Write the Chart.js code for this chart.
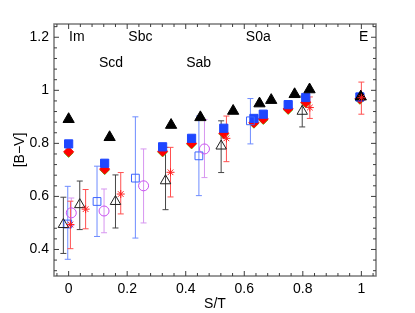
<!DOCTYPE html>
<html>
<head>
<meta charset="utf-8">
<script src="https://cdn.jsdelivr.net/npm/chart.js@4.4.0/dist/chart.umd.min.js"></script>
<style>
body { margin: 0; background: #fff; }
</style>
</head>
<body>
<canvas id="mycanvas" width="415" height="313"></canvas>
<script>
// filled symbols (no error bars)
var triX = [0, 0.14, 0.35, 0.45, 0.562, 0.652, 0.692, 0.772, 0.823, 0.998];
var triY = [0.891, 0.823, 0.869, 0.898, 0.922, 0.95, 0.963, 0.985, 1.003, 0.976];
var sqX = [0, 0.123, 0.321, 0.42, 0.53, 0.633, 0.665, 0.75, 0.81, 0.995];
var sqY = [0.798, 0.725, 0.787, 0.819, 0.857, 0.894, 0.91, 0.946, 0.973, 0.975];
var redY = [0.768, 0.703, 0.77, 0.8, 0.838, 0.878, 0.892, 0.93, 0.955, 0.968];
var greenY = [0.764, 0.699, 0.766, 0.796, 0.834, 0.874, 0.888, 0.926, 0.951, 0.964];

// open symbols with error bars
var bsqX = [-0.003, 0.097, 0.228, 0.445, 0.621];
var bsqY = [0.496, 0.581, 0.669, 0.753, 0.885];
var bsqLo = [0.363, 0.449, 0.443, 0.603, 0.798];
var bsqHi = [0.638, 0.714, 0.9, 0.903, 0.969];

var circX = [0.009, 0.121, 0.256, 0.464];
var circY = [0.538, 0.545, 0.64, 0.779];
var circLo = [0.49, 0.463, 0.5, 0.671];
var circHi = [0.594, 0.628, 0.779, 0.89];

var otriX = [-0.018, 0.038, 0.16, 0.331, 0.521, 0.798];
var otriY = [0.494, 0.569, 0.581, 0.659, 0.79, 0.921];
var otriLo = [0.385, 0.475, 0.481, 0.55, 0.69, 0.862];
var otriHi = [0.597, 0.658, 0.681, 0.785, 0.885, 0.978];

var starX = [0.006, 0.058, 0.178, 0.348, 0.539, 0.824, 1.0];
var starY = [0.494, 0.552, 0.609, 0.691, 0.819, 0.935, 0.972];
var starLo = [0.403, 0.478, 0.534, 0.598, 0.731, 0.894, 0.91];
var starHi = [0.582, 0.626, 0.69, 0.785, 0.903, 0.975, 1.031];

// morphological type labels
var typeNames = ['Im', 'Scd', 'Sbc', 'Sab', 'S0a', 'E'];
var typeX = [0.028, 0.145, 0.245, 0.444, 0.648, 1.008];
var typeY = [1.199, 1.101, 1.199, 1.101, 1.199, 1.199];

var xMajor = [0, 0.2, 0.4, 0.6, 0.8, 1];
var xLabels = ['0', '0.2', '0.4', '0.6', '0.8', '1'];
var yMajor = [0.4, 0.6, 0.8, 1, 1.2];
var yLabels = ['0.4', '0.6', '0.8', '1', '1.2'];

function pts(xs, ys) {
	var out = [];
	for (var i = 0; i < xs.length; i++) out.push({x: xs[i], y: ys[i]});
	return out;
}
function minorTicks(from, to, step) {
	var t = [];
	for (var v = from; v <= to + 1e-9; v += step) t.push(Math.round(v * 1000) / 1000);
	return t;
}
var xTicks = minorTicks(-0.04, 1.04, 0.04);
var yTicks = minorTicks(0.32, 1.24, 0.04);

function labelFor(value, majors, labels) {
	for (var i = 0; i < majors.length; i++) {
		if (Math.abs(value - majors[i]) < 1e-6) return labels[i];
	}
	return '';
}

var errBars = [
	{x: bsqX, lo: bsqLo, hi: bsqHi, color: 'rgb(110,140,255)'},
	{x: circX, lo: circLo, hi: circHi, color: 'rgb(215,150,240)'},
	{x: otriX, lo: otriLo, hi: otriHi, color: 'rgb(70,70,70)'},
	{x: starX, lo: starLo, hi: starHi, color: 'rgb(255,80,80)'}
];

var framePlugin = {
	id: 'frame',
	beforeDatasetsDraw: function(chart) {
		var ctx = chart.ctx, xs = chart.scales.x, ys = chart.scales.y;
		ctx.save();
		ctx.lineWidth = 1;
		errBars.forEach(function(b) {
			ctx.strokeStyle = b.color;
			for (var i = 0; i < b.x.length; i++) {
				var px = xs.getPixelForValue(b.x[i]);
				var p1 = ys.getPixelForValue(b.lo[i]);
				var p2 = ys.getPixelForValue(b.hi[i]);
				ctx.beginPath();
				ctx.moveTo(px, p1); ctx.lineTo(px, p2);
				ctx.moveTo(px - 3, p1); ctx.lineTo(px + 3, p1);
				ctx.moveTo(px - 3, p2); ctx.lineTo(px + 3, p2);
				ctx.stroke();
			}
		});
		ctx.restore();
	},
	afterDraw: function(chart) {
		var ctx = chart.ctx, a = chart.chartArea, xs = chart.scales.x, ys = chart.scales.y;
		ctx.save();
		ctx.strokeStyle = 'rgb(120,120,120)';
		ctx.lineWidth = 1.5;
		ctx.strokeRect(a.left, a.top, a.right - a.left, a.bottom - a.top);
		ctx.lineWidth = 1;
		ctx.strokeStyle = 'rgb(60,60,60)';
		ctx.beginPath();
		xTicks.forEach(function(v) {
			var len = labelFor(v, xMajor, xLabels) ? 5 : 3;
			var px = xs.getPixelForValue(v);
			ctx.moveTo(px, a.bottom); ctx.lineTo(px, a.bottom - len);
			ctx.moveTo(px, a.top); ctx.lineTo(px, a.top + len);
		});
		yTicks.forEach(function(v) {
			var len = labelFor(v, yMajor, yLabels) ? 5 : 3;
			var py = ys.getPixelForValue(v);
			ctx.moveTo(a.left, py); ctx.lineTo(a.left + len, py);
			ctx.moveTo(a.right, py); ctx.lineTo(a.right - len, py);
		});
		ctx.stroke();

		ctx.fillStyle = '#000';
		ctx.font = '14px "Liberation Sans", Arial, sans-serif';
		ctx.textAlign = 'center';
		ctx.textBaseline = 'middle';
		for (var i = 0; i < typeNames.length; i++) {
			ctx.fillText(typeNames[i], xs.getPixelForValue(typeX[i]), ys.getPixelForValue(typeY[i]));
		}
		ctx.restore();
	}
};

Chart.defaults.font.family = '"Liberation Sans", Arial, sans-serif';
Chart.defaults.font.size = 14;
Chart.defaults.color = '#000';

var ctx = document.getElementById('mycanvas');
var chart = new Chart(ctx, {
	type: 'scatter',
	data: {
		datasets: [
			{label: 'E-star', data: pts(starX, starY), pointStyle: 'star', radius: 4,
				borderColor: 'rgb(255,30,30)', backgroundColor: 'rgb(255,30,30)', borderWidth: 1},
			{label: 'tri-open', data: pts(otriX, otriY), pointStyle: 'triangle', radius: 6,
				borderColor: 'rgb(30,30,30)', backgroundColor: 'rgba(0,0,0,0)', borderWidth: 1},
			{label: 'circle', data: pts(circX, circY), pointStyle: 'circle', radius: 5,
				borderColor: 'rgb(200,80,240)', backgroundColor: 'rgba(0,0,0,0)', borderWidth: 1},
			{label: 'sq-open', data: pts(bsqX, bsqY), pointStyle: 'rect', radius: 5.5,
				borderColor: 'rgb(60,100,255)', backgroundColor: 'rgba(0,0,0,0)', borderWidth: 1},
			{label: 'tri', data: pts(triX, triY), pointStyle: 'triangle', radius: 6.5,
				borderColor: '#000', backgroundColor: '#000', borderWidth: 1},
			{label: 'sq', data: pts(sqX, sqY), pointStyle: 'rect', radius: 5.8,
				borderColor: 'rgb(30,70,255)', backgroundColor: 'rgb(30,70,255)', borderWidth: 1},
			{label: 'red', data: pts(sqX, redY), pointStyle: 'rectRot', radius: 5,
				borderColor: 'rgb(255,0,0)', backgroundColor: 'rgb(255,0,0)', borderWidth: 1},
			{label: 'green', data: pts(sqX, greenY), pointStyle: 'rectRot', radius: 4.5,
				borderColor: 'rgb(90,200,40)', backgroundColor: 'rgb(90,200,40)', borderWidth: 1}
		]
	},
	options: {
		responsive: false,
		animation: false,
		events: [],
		layout: {padding: {top: 24, right: 39, left: 0, bottom: 0}},
		plugins: {legend: {display: false}, tooltip: {enabled: false}},
		scales: {
			x: {
				type: 'linear', min: -0.05, max: 1.05,
				grid: {display: false, drawTicks: false},
				border: {display: false},
				afterBuildTicks: function(scale) {
					scale.ticks = xTicks.map(function(v) { return {value: v}; });
				},
				afterFit: function(scale) { scale.height = 37; },
				ticks: {
					autoSkip: false, maxRotation: 0, padding: 5,
					callback: function(v) { return labelFor(v, xMajor, xLabels); }
				},
				title: {display: true, text: 'S/T', padding: {top: 0, bottom: 0}}
			},
			y: {
				type: 'linear', min: 0.3, max: 1.25,
				grid: {display: false, drawTicks: false},
				border: {display: false},
				afterBuildTicks: function(scale) {
					scale.ticks = yTicks.map(function(v) { return {value: v}; });
				},
				afterFit: function(scale) { scale.width = 54; },
				ticks: {
					autoSkip: false, padding: 5,
					callback: function(v) { return labelFor(v, yMajor, yLabels); }
				},
				title: {display: true, text: '[B\u2212V]', padding: {top: 12, bottom: 0}}
			}
		}
	},
	plugins: [framePlugin]
});
</script>
</body>
</html>
